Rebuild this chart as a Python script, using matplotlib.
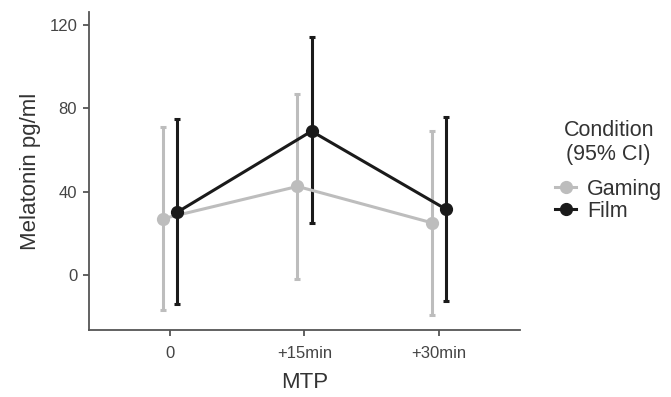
import numpy as np
import matplotlib.pyplot as plt
from matplotlib.lines import Line2D

plt.rcParams['font.family'] = ['Liberation Sans', 'DejaVu Sans']

timepoints = ['0', '+15min', '+30min']
gaming_mean = [27, 42.5, 25]
gaming_low = [-17, -2, -19]
gaming_high = [71, 87, 69]
film_mean = [30, 69, 31.5]
film_low = [-14, 25, -12.5]
film_high = [75, 114, 76]

gaming_col = '#bdbdbd'
film_col = '#1a1a1a'
dodge = 0.052

fig = plt.figure(figsize=(6.71, 3.97), dpi=100)
ax = fig.add_axes([0.1326, 0.1688, 0.775 - 0.1326, 0.9698 - 0.1688])

x = np.arange(len(timepoints))
handles = []
for means, lo, hi, col, off, name in [
        (gaming_mean, gaming_low, gaming_high, gaming_col, -dodge, 'Gaming'),
        (film_mean, film_low, film_high, film_col, dodge, 'Film')]:
    means = np.array(means)
    err = [means - np.array(lo), np.array(hi) - means]
    ax.errorbar(x + off, means, yerr=err, color=col, lw=2.2, elinewidth=2.2,
                capsize=2.5, capthick=2.2, marker='o', markersize=8.5)
    handles.append(Line2D([], [], color=col, lw=2.2, marker='o',
                          markersize=8.5, label=name))

ax.set_xlim(-0.6, 2.6)
ax.set_ylim(-26.4, 126.2)
ax.set_xticks(x)
ax.set_xticklabels(timepoints)
ax.set_yticks([0, 40, 80, 120])

for s in ['top', 'right']:
    ax.spines[s].set_visible(False)
for s in ['left', 'bottom']:
    ax.spines[s].set_color('#555555')
    ax.spines[s].set_linewidth(1.3)
ax.tick_params(axis='both', colors='#555555', labelcolor='#444444',
               labelsize=12, length=4.5, width=1.3)
ax.tick_params(axis='x', pad=7)
ax.tick_params(axis='y', pad=4)

ax.set_xlabel('MTP', fontsize=16, color='#333333', labelpad=8)
ax.set_ylabel('Melatonin pg/ml', fontsize=16, color='#333333', labelpad=6)

leg = ax.legend(handles=handles, title='Condition\n(95% CI)', loc='center left',
                bbox_to_anchor=(0.838, 0.57), bbox_transform=fig.transFigure,
                frameon=False, fontsize=15.5, title_fontsize=15.5,
                handlelength=1.0, handletextpad=0.5, labelspacing=0.05,
                borderpad=0, alignment='center')
leg.get_title().set_color('#333333')
leg.get_title().set_multialignment('center')
leg._legend_box.sep = 10
for t in leg.get_texts():
    t.set_color('#333333')
# same legend, only its left edge pulled in so "Gaming" fits
leg.set_bbox_to_anchor((0.811, 0.57), transform=fig.transFigure)

fig.savefig('out.png', dpi=100)
